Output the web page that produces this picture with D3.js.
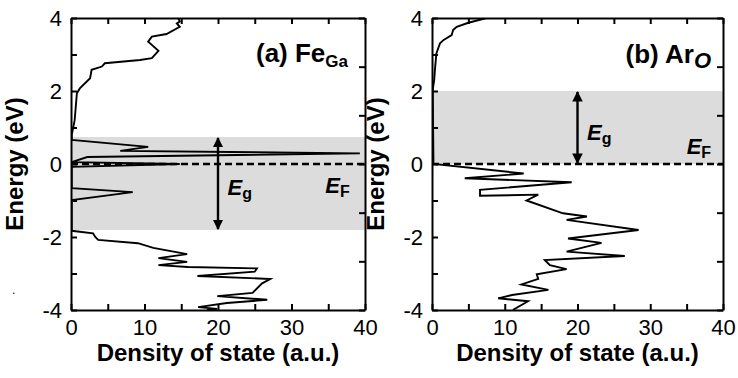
<!DOCTYPE html>
<html>
<head>
<meta charset="utf-8">
<script src="https://cdn.jsdelivr.net/npm/d3@7"></script>
<style>
  body { margin: 0; background: #fff; }
  svg { display: block; font-family: "Liberation Sans", Arial, sans-serif; }
</style>
</head>
<body>
<svg id="chart" width="738" height="378"></svg>
<script>
// Panel (a) Fe_Ga : energy (eV) and density of state along the curve
const energyA = [4.0, 3.9, 3.85, 3.76, 3.56, 3.49, 3.35, 3.1, 2.9, 2.85,
  2.76, 2.67, 2.58, 2.35, 2.07, 1.94, 1.2, 0.8, 0.66, 0.47,
  0.36, 0.29, 0.19, 0.05, 0.0, -0.08, -0.66, -0.77, -0.99, -1.83,
  -1.9, -2.0, -2.08, -2.17, -2.3, -2.47, -2.58, -2.68, -2.77, -2.82,
  -2.86, -2.95, -3.07, -3.15, -3.27, -3.53, -3.62, -3.72, -3.81, -3.92,
  -3.97, -4.0];
const dosA = [14.6, 14.8, 14.4, 14.8, 13.0, 11.0, 10.5, 11.9, 11.0, 9.4,
  4.6, 4.2, 2.8, 2.6, 1.2, 0.8, 0.5, 0.1, 0.1, 10.5,
  6.7, 39.3, 2.2, 0.1, 14.8, 0.1, 0.1, 8.4, 0.1, 0.1,
  3.0, 3.3, 3.7, 9.1, 11.2, 15.8, 11.9, 15.8, 11.9, 15.9,
  25.3, 25.0, 17.2, 27.1, 26.0, 24.7, 19.9, 26.7, 21.2, 17.3,
  19.9, 18.5];

// Panel (b) Ar_O
const energyB = [4.0, 3.87, 3.76, 3.67, 3.53, 3.4, 3.31, 3.03, 2.58, 2.3,
  2.03, 0.0, -0.26, -0.39, -0.5, -0.71, -0.87, -0.84, -1.0, -1.35,
  -1.44, -1.53, -1.81, -2.04, -2.16, -2.4, -2.52, -2.63, -2.77, -2.88,
  -3.02, -3.15, -3.3, -3.45, -3.59, -3.68, -3.76, -4.0];
const dosB = [7.5, 5.0, 3.4, 2.9, 2.7, 1.6, 1.1, 0.6, 0.4, 0.3,
  0.1, 0.2, 12.6, 4.5, 19.2, 6.6, 6.6, 14.6, 13.0, 18.0,
  21.3, 18.5, 28.4, 18.7, 23.3, 18.5, 26.5, 15.5, 16.2, 18.5,
  14.4, 14.6, 12.3, 16.0, 11.0, 9.1, 13.2, 11.1];

// Band gap edges (eV) and where the E_g arrow sits
const gapA = [0.74, -1.81];
const gapB = [2.0, 0.0];
const arrowDos = 20;

// Axis ticks
const xTicks = [0, 5, 10, 15, 20, 25, 30, 35, 40];
const xLabels = [0, 10, 20, 30, 40];
const yTicks = [-4, -3, -2, -1, 0, 1, 2, 3, 4];
const yLabels = [-4, -2, 0, 2, 4];
const yRightTicks = [-4, -8 / 3, -4 / 3, 0, 4 / 3, 8 / 3, 4];

const svg = d3.select("#chart");
const plotTop = 18, plotBottom = 310;

// Arrow heads
const defs = svg.append("defs");
["start", "end"].forEach(k => {
  defs.append("marker")
    .attr("id", "head-" + k)
    .attr("viewBox", "0 0 10 10")
    .attr("refX", 9).attr("refY", 5)
    .attr("markerWidth", 4.4).attr("markerHeight", 4.4)
    .attr("markerUnits", "strokeWidth")
    .attr("orient", k === "start" ? "auto-start-reverse" : "auto")
    .append("path").attr("d", "M0,0L10,5L0,10Z").attr("fill", "#000");
});

function drawPanel(opt) {
  const x = d3.scaleLinear().domain([0, 40]).range([opt.left, opt.right]);
  const y = d3.scaleLinear().domain([-4, 4]).range([plotBottom, plotTop]);
  const g = svg.append("g");

  g.append("clipPath").attr("id", "clip-" + opt.id)
    .append("rect")
    .attr("x", opt.left).attr("y", plotTop)
    .attr("width", opt.right - opt.left).attr("height", plotBottom - plotTop);

  // Grey band for the gap
  g.append("rect")
    .attr("x", x(0)).attr("width", x(40) - x(0))
    .attr("y", y(opt.gap[0])).attr("height", y(opt.gap[1]) - y(opt.gap[0]))
    .attr("fill", "#dcdcdc");

  // DOS curve
  const line = d3.line().x(d => x(d[1])).y(d => y(d[0]));
  g.append("path")
    .datum(d3.zip(opt.energy, opt.dos))
    .attr("clip-path", "url(#clip-" + opt.id + ")")
    .attr("d", line)
    .attr("fill", "none")
    .attr("stroke", "#000")
    .attr("stroke-width", 1.9)
    .attr("stroke-linejoin", "miter");

  // Fermi level
  g.append("line")
    .attr("x1", x(0)).attr("x2", x(40))
    .attr("y1", y(0)).attr("y2", y(0))
    .attr("stroke", "#000")
    .attr("stroke-width", 2.6)
    .attr("stroke-dasharray", "7,4");

  // E_g double arrow
  g.append("line")
    .attr("x1", x(arrowDos)).attr("x2", x(arrowDos))
    .attr("y1", y(opt.gap[0]) + 1).attr("y2", y(opt.gap[1]) - 1)
    .attr("stroke", "#000").attr("stroke-width", 2.4)
    .attr("marker-start", "url(#head-start)")
    .attr("marker-end", "url(#head-end)");

  // Axes, ticks pointing inward
  const axes = [
    [d3.axisBottom(x).tickValues(xTicks).tickFormat(d => xLabels.includes(d) ? d : ""), `translate(0,${plotBottom})`],
    [d3.axisTop(x).tickValues(xTicks).tickFormat(""), `translate(0,${plotTop})`],
    [d3.axisLeft(y).tickValues(yTicks).tickFormat(d => yLabels.includes(d) ? d : ""), `translate(${opt.left},0)`],
    [d3.axisRight(y).tickValues(yRightTicks).tickFormat(""), `translate(${opt.right},0)`]
  ];
  axes.forEach(([ax, tr]) => {
    const a = g.append("g")
      .attr("transform", tr)
      .call(ax.tickSize(-6).tickSizeOuter(0).tickPadding(9));
    a.attr("font-family", null).attr("font-size", 22);
    a.select(".domain").attr("stroke-width", 2);
    a.selectAll(".tick line").attr("stroke-width", 2);
    a.selectAll(".tick text").attr("fill", "#000");
  });

  // Axis titles
  g.append("text")
    .attr("x", (opt.left + opt.right) / 2).attr("y", 361)
    .attr("text-anchor", "middle")
    .attr("font-weight", "bold").attr("font-size", 24)
    .text("Density of state (a.u.)");
  g.append("text")
    .attr("transform", `translate(${opt.left - opt.titleGap},${(plotTop + plotBottom) / 2}) rotate(-90)`)
    .attr("text-anchor", "middle")
    .attr("font-weight", "bold").attr("font-size", 24)
    .text("Energy (eV)");

  // Panel label
  const lab = g.append("text")
    .attr("x", opt.labelX).attr("y", opt.labelY)
    .attr("text-anchor", "end")
    .attr("font-weight", "bold").attr("font-size", 26);
  lab.append("tspan").text(opt.name);
  lab.append("tspan").attr("dy", 5).attr("font-size", opt.subSize)
    .attr("font-style", opt.subItalic ? "italic" : null).text(opt.sub);

  // E_g and E_F labels
  [["g", opt.egPos], ["F", opt.efPos]].forEach(([s, p]) => {
    const t = g.append("text")
      .attr("x", x(p[0])).attr("y", y(p[1]))
      .attr("font-weight", "bold").attr("font-size", 22);
    t.append("tspan").attr("font-style", "italic").text("E");
    t.append("tspan").attr("dy", 4).attr("font-size", 16).text(s);
  });
}

drawPanel({
  id: "a", left: 71, right: 365, titleGap: 48,
  energy: energyA, dos: dosA, gap: gapA,
  name: "(a) Fe", sub: "Ga", subSize: 17, subItalic: false,
  labelX: 348, labelY: 62,
  egPos: [21.3, -0.85], efPos: [34.6, -0.8]
});
drawPanel({
  id: "b", left: 432, right: 723, titleGap: 48,
  energy: energyB, dos: dosB, gap: gapB,
  name: "(b) Ar", sub: "O", subSize: 22, subItalic: true,
  labelX: 711, labelY: 63,
  egPos: [21.3, 0.66], efPos: [35.0, 0.27]
});

// stray dot seen in the original
svg.append("text").attr("x", 12).attr("y", 294).attr("font-size", 12).text(".");
</script>
</body>
</html>
